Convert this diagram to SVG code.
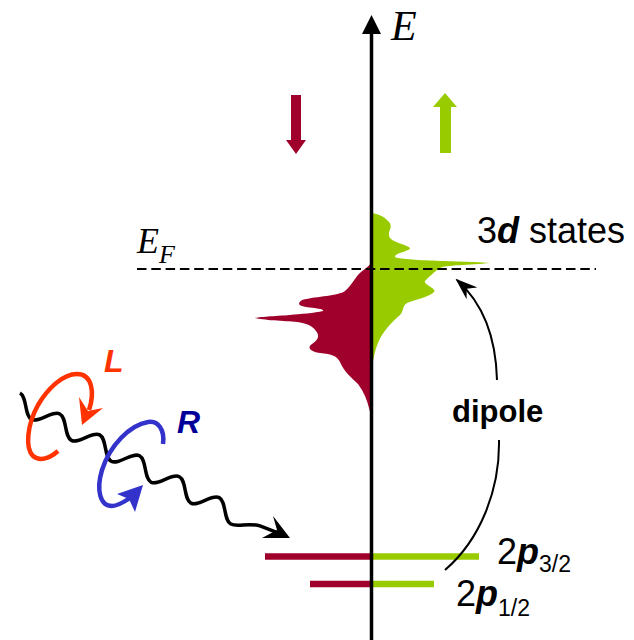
<svg xmlns="http://www.w3.org/2000/svg" width="634" height="640" viewBox="0 0 634 640">
<style>
.sans{font-family:"Liberation Sans",Arial,sans-serif}
.serif{font-family:"Liberation Serif","Times New Roman",serif;font-style:italic}
.bi{font-weight:bold;font-style:italic}
.red{fill:#A0002C}
.green{fill:#99CC00}
.lvlR{stroke:#A0002C;stroke-width:6.5}
.lvlG{stroke:#99CC00;stroke-width:6.5}
</style>
<defs>
<marker id="dip" markerUnits="userSpaceOnUse" markerWidth="22" markerHeight="16" viewBox="0 0 22 16" refX="20" refY="8" orient="auto">
<path d="M22,8 L0,0 L7,8 L0,16 Z" fill="#000"/>
</marker>
</defs>
<rect width="634" height="640" fill="#fff"/>

<g id="dos-down">
<path class="red" d="M372,262 C370,265 366,268 361,272 C355,277 352,285 345,291 C338,296 318,296 302,300 C296,304 300,306 306,307 C315,308 325,309 323,311 C315,313 300,314 290,315 C275,316 258,317 255,318 C262,320 285,321 297,322 C306,323 313,326 316,331 C320,336 318,340 312,344 C306,348 312,352 320,353 C332,354 337,356 340,362 C344,372 352,378 358,384 C364,392 367,400 369,408 C370,412 371,415 372,416 Z"/>
</g>
<g id="dos-up">
<path class="green" d="M372,213 C378,214 384,216 389,222 C394,228 386,232 390,238 C394,243 408,245 410,248 C411,251 394,253 395,257 C400,261 470,261 490,263 C470,265 445,265 440,268 C434,272 428,278 425,281 C423,285 437,288 434,292 C431,296 415,300 407,303 C402,306 404,311 400,315 C392,322 382,332 378,343 C375,350 374,356 373,362 L372,362 Z"/>
</g>

<g id="levels">
<line class="lvlR" x1="265" y1="556.5" x2="372" y2="556.5"/>
<line class="lvlG" x1="372" y1="556.5" x2="479" y2="556.5"/>
<line class="lvlR" x1="310" y1="584" x2="372" y2="584"/>
<line class="lvlG" x1="372" y1="584" x2="434" y2="584"/>
</g>

<g id="fermi">
<line x1="137" y1="269" x2="596" y2="269" stroke="#000" stroke-width="2" stroke-dasharray="9.5,4.8"/>
<text class="serif" x="137" y="253" font-size="36">E<tspan font-size="26" dy="10">F</tspan></text>
</g>

<g id="axis">
<line x1="371.5" y1="30" x2="371.5" y2="640" stroke="#000" stroke-width="3.5"/>
<polygon points="371.5,15 362,34 381,34" fill="#000"/>
<text class="serif" x="391" y="40" font-size="42">E</text>
</g>

<g id="spin-down">
<polygon class="red" points="291,95 301,95 301,140 306,140 296,154 286,140 291,140"/>
</g>
<g id="spin-up">
<polygon class="green" points="440,153 451,153 451,107 457,107 445,93 433,107 440,107"/>
</g>

<g id="labels" class="sans">
<text x="477" y="243" font-size="36">3<tspan class="bi">d</tspan> states</text>
<text x="452" y="422" font-size="31" font-weight="bold">dipole</text>
<text x="497" y="564" font-size="36">2<tspan class="bi">p</tspan><tspan font-size="23" dy="8">3/2</tspan></text>
<text x="456" y="606" font-size="36">2<tspan class="bi">p</tspan><tspan font-size="23" dy="10">1/2</tspan></text>
<text class="bi" x="104" y="372" font-size="32" fill="#FF3300">L</text>
<text class="bi" x="177" y="433" font-size="32" fill="#000099">R</text>
</g>

<g id="connectors" fill="none" stroke="#000">
<path d="M497,380 C496,340 485,305 457,280" stroke-width="2" marker-end="url(#dip)"/>
<path d="M499,440 C500,490 480,540 445,570" stroke-width="2"/>
<g transform="translate(15.8,401) rotate(27.7)">
<path d="M0,-9 C8.2,-9 14.3,9 22.5,9 S36.8,-9 45,-9 S59.3,9 67.5,9 S81.8,-9 90,-9 S104.3,9 112.5,9 S126.8,-9 135,-9 S149.3,9 157.5,9 S171.8,-9 180,-9 S194.3,9 202.5,9 S216.8,-9 225,-9 S239.3,9 247.5,9 S262,-1 275,-3 L292,-5" stroke-width="3.5"/>
</g>
<polygon points="290,538 273,516 277,530 262,538" fill="#000" stroke="none"/>
</g>

<g id="circ-L">
<path d="M58,451 C50,458 40,462 33,456 C25,448 27,425 38,405 C48,388 63,374 77,374 C92,374 95,392 89,410" fill="none" stroke="#FF3300" stroke-width="4.5"/>
<polygon points="82,425 79,397 88,411 103,408" fill="#FF3300"/>
</g>
<g id="circ-R">
<path d="M163,444 C165,430 158,420 148,422 C130,425 110,445 102,470 C96,490 100,506 112,506 C118,506 124,502 130,498" fill="none" stroke="#3333CC" stroke-width="4.5"/>
<polygon points="143,485 117,494 129,499 135,512" fill="#3333CC"/>
</g>
</svg>
